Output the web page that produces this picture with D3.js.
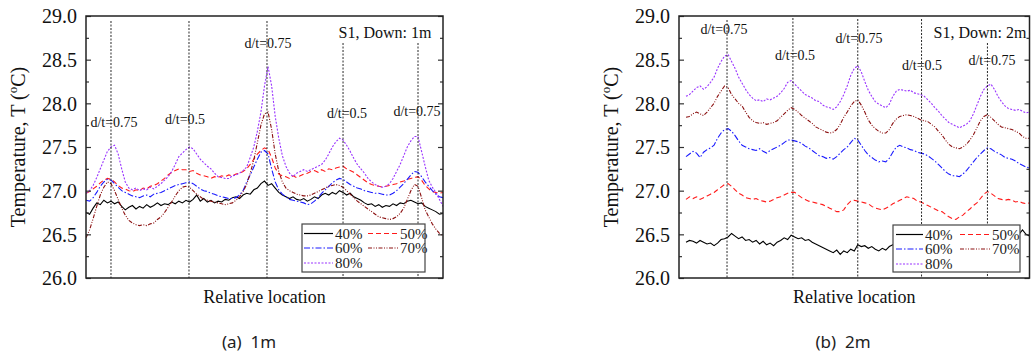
<!DOCTYPE html>
<html><head><meta charset="utf-8">
<script src="https://cdn.jsdelivr.net/npm/d3@7"></script>
<style>html,body{margin:0;padding:0;background:#fff;}svg{display:block;}
.serif{font-family:"Liberation Serif","Times New Roman",serif;}
.sans{font-family:"Noto Sans","DejaVu Sans",sans-serif;}</style>
</head><body>
<svg id="chart" width="1031" height="357"></svg>
<script>
// ---------- DATA ----------
const seriesNames = ["40%", "50%", "60%", "70%", "80%"];
const yTicks = [26.0, 26.5, 27.0, 27.5, 28.0, 28.5, 29.0];
const panelTitles = ["S1, Down: 1m", "S1, Down: 2m"];
const captions = ["(a)\u00a0\u00a01m", "(b)\u00a0\u00a02m"];
const dtLabels1 = ["d/t=0.75", "d/t=0.5", "d/t=0.75", "d/t=0.5", "d/t=0.75"];
const dtLabels2 = ["d/t=0.75", "d/t=0.5", "d/t=0.75", "d/t=0.5", "d/t=0.75"];
const dtLoc1 = [7.0, 28.85, 50.7, 72.0, 93.0];
const dtLoc2 = [13.7, 32.5, 51.0, 69.2, 88.0];

// Panel (a) 1m: relative location 0..100
const loc1 = d3.range(0, 101);
const a40 = [26.75,26.73,26.80,26.86,26.84,26.89,26.86,26.88,26.85,26.87,26.82,26.78,26.81,26.83,26.79,26.82,26.80,26.84,26.81,26.83,
26.86,26.83,26.85,26.84,26.87,26.85,26.88,26.86,26.89,26.87,26.90,26.95,26.88,26.91,26.87,26.89,26.86,26.88,26.87,26.90,
26.89,26.92,26.93,26.91,26.95,26.97,26.96,27.01,27.03,27.08,27.11,27.06,27.08,27.03,26.98,26.95,26.93,26.91,26.93,26.90,
26.89,26.91,26.88,26.90,26.93,26.91,26.95,26.97,26.95,26.98,26.96,27.00,26.98,26.95,26.97,26.93,26.91,26.89,26.86,26.84,
26.85,26.82,26.84,26.81,26.83,26.82,26.85,26.83,26.86,26.85,26.88,26.89,26.87,26.85,26.86,26.82,26.80,26.78,26.76,26.73,26.74];
const a50 = [26.97,26.99,27.02,27.05,27.09,27.12,27.14,27.13,27.10,27.06,27.03,27.02,27.00,26.99,27.01,27.00,27.03,27.02,27.05,27.06,
27.08,27.11,27.14,27.18,27.21,27.23,27.25,27.24,27.24,27.22,27.23,27.20,27.18,27.17,27.16,27.14,27.16,27.15,27.17,27.16,
27.18,27.17,27.19,27.20,27.22,27.25,27.30,27.36,27.42,27.46,27.49,27.47,27.38,27.26,27.19,27.17,27.16,27.14,27.17,27.15,
27.17,27.19,27.20,27.22,27.23,27.21,27.24,27.22,27.25,27.24,27.26,27.27,27.28,27.25,27.23,27.21,27.18,27.15,27.12,27.09,
27.07,27.06,27.05,27.04,27.05,27.06,27.07,27.08,27.10,27.11,27.13,27.14,27.15,27.16,27.12,27.06,27.02,26.99,26.98,26.97,26.98];
const a60 = [26.89,26.88,26.92,26.98,27.05,27.10,27.13,27.12,27.08,27.04,27.00,26.98,26.96,26.94,26.93,26.92,26.94,26.95,26.93,26.96,
26.97,26.98,27.00,27.02,27.04,27.06,27.07,27.08,27.09,27.10,27.08,27.05,27.02,27.00,26.99,26.97,26.96,26.94,26.93,26.92,
26.91,26.91,26.92,26.95,27.00,27.10,27.18,27.27,27.36,27.44,27.46,27.42,27.25,27.10,27.01,26.96,26.93,26.90,26.89,26.88,
26.87,26.86,26.84,26.85,26.88,26.92,26.97,27.01,27.05,27.09,27.12,27.14,27.13,27.10,27.07,27.05,27.03,27.02,27.00,26.99,
26.98,26.97,26.97,26.96,26.95,26.95,26.97,27.00,27.04,27.08,27.13,27.18,27.22,27.21,27.16,27.10,27.05,27.00,26.96,26.93,26.92];
const a70 = [26.46,26.55,26.68,26.82,26.95,27.04,27.10,27.08,27.00,26.90,26.80,26.72,26.66,26.63,26.61,26.60,26.61,26.60,26.62,26.63,
26.67,26.70,26.75,26.81,26.87,26.94,27.00,27.04,27.05,27.04,27.00,26.96,26.93,26.90,26.89,26.88,26.87,26.86,26.85,26.84,
26.85,26.86,26.89,26.93,26.99,27.07,27.20,27.35,27.55,27.75,27.88,27.90,27.70,27.42,27.22,27.10,27.03,27.00,26.98,26.96,
26.95,26.94,26.94,26.95,26.97,26.99,27.01,27.03,27.05,27.06,27.07,27.06,27.04,27.00,26.96,26.92,26.88,26.85,26.82,26.79,
26.76,26.73,26.70,26.69,26.68,26.67,26.68,26.70,26.74,26.80,26.90,27.00,27.07,27.05,26.92,26.78,26.70,26.62,26.56,26.51,26.48];
const a80 = [26.97,27.00,27.06,27.15,27.25,27.35,27.45,27.50,27.52,27.42,27.25,27.10,27.03,27.01,27.03,27.00,27.02,27.01,27.04,27.02,
27.05,27.08,27.12,27.16,27.22,27.30,27.39,27.43,27.47,27.50,27.48,27.42,27.36,27.32,27.28,27.25,27.20,27.16,27.15,27.14,
27.14,27.17,27.18,27.20,27.23,27.27,27.38,27.50,27.68,27.90,28.20,28.42,28.20,27.85,27.60,27.40,27.28,27.20,27.16,27.20,
27.22,27.24,27.22,27.24,27.26,27.28,27.30,27.35,27.42,27.50,27.56,27.60,27.58,27.52,27.45,27.37,27.30,27.25,27.20,27.14,
27.10,27.07,27.05,27.04,27.05,27.08,27.14,27.22,27.30,27.40,27.50,27.57,27.62,27.62,27.45,27.28,27.12,27.04,26.98,26.90,26.82];

// Panel (b) 2m: relative location 2..100
const loc2 = d3.range(2, 101);
const b40 = [26.41,26.43,26.42,26.40,26.43,26.41,26.39,26.40,26.37,26.40,26.44,26.45,26.47,26.51,26.48,26.45,26.47,26.43,26.44,
26.41,26.43,26.39,26.42,26.38,26.40,26.37,26.41,26.43,26.46,26.44,26.49,26.47,26.45,26.46,26.43,26.44,26.41,26.39,26.37,
26.35,26.33,26.31,26.29,26.32,26.27,26.31,26.29,26.33,26.31,26.38,26.36,26.37,26.34,26.36,26.33,26.31,26.34,26.32,26.36,
26.38,26.40,26.38,26.41,26.42,26.44,26.41,26.43,26.40,26.41,26.38,26.36,26.35,26.33,26.34,26.31,26.30,26.31,26.29,26.32,
26.34,26.36,26.38,26.41,26.43,26.45,26.47,26.49,26.48,26.46,26.45,26.47,26.46,26.48,26.47,26.49,26.50,26.55,26.50,26.48];
const b50 = [26.90,26.93,26.91,26.93,26.90,26.92,26.94,26.96,26.98,27.01,27.04,27.07,27.08,27.05,27.01,26.97,26.95,26.92,26.91,
26.90,26.91,26.89,26.88,26.87,26.88,26.90,26.92,26.93,26.95,26.97,26.98,26.98,26.95,26.92,26.90,26.88,26.87,26.86,26.85,
26.84,26.82,26.80,26.78,26.76,26.76,26.78,26.84,26.88,26.89,26.88,26.87,26.86,26.85,26.82,26.80,26.79,26.78,26.80,26.82,
26.85,26.87,26.89,26.91,26.93,26.92,26.91,26.88,26.87,26.85,26.83,26.81,26.79,26.77,26.76,26.73,26.70,26.68,26.67,26.70,
26.72,26.76,26.79,26.83,26.86,26.91,26.96,26.99,26.97,26.94,26.91,26.90,26.89,26.90,26.89,26.87,26.88,26.86,26.85,26.86];
const b60 = [27.39,27.42,27.45,27.43,27.38,27.44,27.47,27.49,27.52,27.60,27.66,27.70,27.71,27.68,27.63,27.57,27.52,27.50,27.48,
27.47,27.46,27.48,27.45,27.43,27.46,27.48,27.50,27.52,27.55,27.58,27.58,27.57,27.56,27.54,27.51,27.49,27.46,27.43,27.40,
27.39,27.37,27.38,27.36,27.39,27.43,27.47,27.50,27.55,27.60,27.58,27.52,27.46,27.41,27.38,27.35,27.33,27.34,27.33,27.37,
27.44,27.50,27.52,27.50,27.49,27.47,27.46,27.44,27.43,27.42,27.40,27.37,27.34,27.30,27.26,27.22,27.19,27.17,27.17,27.16,
27.19,27.23,27.28,27.33,27.38,27.42,27.46,27.49,27.48,27.45,27.43,27.41,27.38,27.37,27.36,27.34,27.31,27.29,27.27,27.26];
const b70 = [27.84,27.85,27.88,27.90,27.88,27.86,27.90,27.95,28.00,28.08,28.14,28.20,28.18,28.10,28.05,28.00,27.97,27.90,27.84,
27.80,27.78,27.77,27.78,27.76,27.77,27.78,27.80,27.84,27.88,27.92,27.95,27.93,27.90,27.86,27.83,27.80,27.77,27.73,27.71,
27.69,27.67,27.66,27.67,27.70,27.76,27.84,27.90,27.97,28.02,28.04,27.98,27.90,27.81,27.75,27.71,27.68,27.66,27.66,27.70,
27.77,27.82,27.85,27.86,27.87,27.86,27.85,27.83,27.81,27.80,27.79,27.76,27.73,27.68,27.64,27.58,27.53,27.50,27.49,27.48,
27.50,27.53,27.58,27.64,27.72,27.80,27.85,27.87,27.84,27.80,27.76,27.73,27.72,27.71,27.70,27.68,27.66,27.62,27.60,27.60];
const b80 = [28.08,28.10,28.14,28.18,28.20,28.16,28.19,28.24,28.30,28.40,28.48,28.54,28.56,28.48,28.40,28.30,28.23,28.16,28.10,
28.06,28.03,28.04,28.02,28.05,28.04,28.06,28.08,28.12,28.17,28.24,28.26,28.22,28.18,28.14,28.10,28.08,28.06,28.03,28.02,
27.98,27.96,27.95,27.93,27.96,28.02,28.10,28.20,28.32,28.40,28.43,28.36,28.25,28.15,28.08,28.02,27.99,27.97,27.95,27.99,
28.08,28.14,28.16,28.15,28.14,28.15,28.12,28.11,28.10,28.08,28.04,28.00,27.95,27.91,27.86,27.82,27.78,27.76,27.74,27.72,
27.74,27.76,27.80,27.88,27.98,28.08,28.16,28.20,28.22,28.16,28.08,28.02,27.97,27.94,27.93,27.92,27.93,27.91,27.89,27.90];

// ---------- STYLE ----------
const styles = {
  "40%": {color: "#000000", dash: null},
  "50%": {color: "#ff1a1a", dash: "5,3"},
  "60%": {color: "#1a1aff", dash: "6,2,1.5,2"},
  "70%": {color: "#8b1010", dash: "4,1.5,1,1.5,1,1.5"},
  "80%": {color: "#9933ff", dash: "2,1.5"}
};
const svg = d3.select("#chart");
svg.append("rect").attr("width", 1031).attr("height", 357).attr("fill", "#fff");

const panels = [
  {id: "a", left: 86, right: 443, top: 16, bottom: 278, loc: loc1, series: [a40, a50, a60, a70, a80],
   dtLoc: dtLoc1, dtLabels: dtLabels1, lineTops: [21, 21, 21, 43, 43],
   labelPos: [[114, 127], [185, 124], [268, 48], [347, 118], [417, 116]],
   title: panelTitles[0], titlePos: [385, 38], caption: captions[0], capX: 249,
   legend: {x0: 302, x1: 425, y0: 224, y1: 272, c1: [304, 333, 335], c2: [368, 399, 400]}},
  {id: "b", left: 679, right: 1029.5, top: 16, bottom: 278, loc: loc2, series: [b40, b50, b60, b70, b80],
   dtLoc: dtLoc2, dtLabels: dtLabels2, lineTops: [20, 18, 19, 19, 43],
   labelPos: [[724, 34], [795, 60], [859, 43], [922, 70], [992, 65]],
   title: panelTitles[1], titlePos: [980, 38], caption: captions[1], capX: 843,
   legend: {x0: 893, x1: 1020, y0: 225, y1: 272, c1: [896, 923, 925], c2: [960, 990, 992]}}
];

panels.forEach((p) => {
  const x = d3.scaleLinear().domain([0, 100]).range([p.left, p.right]);
  const y = d3.scaleLinear().domain([26, 29]).range([p.bottom, p.top]);
  const g = svg.append("g");
  const clipId = "clip" + p.id;
  svg.append("clipPath").attr("id", clipId).append("rect")
    .attr("x", p.left).attr("y", p.top).attr("width", p.right - p.left).attr("height", p.bottom - p.top);

  // series
  const line = d3.line().x((d, i) => x(p.loc[i])).y(d => y(d));
  const sg = g.append("g").attr("clip-path", `url(#${clipId})`);
  p.series.forEach((vals, si) => {
    const st = styles[seriesNames[si]];
    sg.append("path").datum(vals).attr("d", line)
      .attr("fill", "none").attr("stroke", st.color).attr("stroke-width", 1.1)
      .attr("stroke-dasharray", st.dash);
  });

  // d/t vertical lines
  p.dtLoc.forEach((u, i) => {
    g.append("line").attr("x1", x(u)).attr("x2", x(u)).attr("y1", p.lineTops[i]).attr("y2", p.bottom)
      .attr("stroke", "#111").attr("stroke-width", 0.9).attr("stroke-dasharray", "2,1.5");
  });
  p.dtLabels.forEach((t, i) => {
    g.append("text").attr("class", "serif").attr("x", p.labelPos[i][0]).attr("y", p.labelPos[i][1])
      .attr("text-anchor", "middle").style("font-size", "14px").attr("fill", "#111").text(t);
  });
  g.append("text").attr("class", "serif").attr("x", p.titlePos[0]).attr("y", p.titlePos[1]).attr("text-anchor", "middle")
    .style("font-size", "16px").attr("fill", "#111").text(p.title);

  // axes
  const minor = d3.range(26.25, 29, 0.5);
  const axL = d3.axisLeft(y).tickValues(yTicks).tickSizeInner(-5).tickSizeOuter(0).tickPadding(9).tickFormat(d3.format(".1f"));
  const gl = g.append("g").attr("transform", `translate(${p.left},0)`).call(axL);
  gl.attr("font-family", null).attr("font-size", null);
  gl.select(".domain").remove();
  gl.selectAll(".tick line").attr("stroke", "#333").attr("stroke-width", 1.2);
  gl.selectAll(".tick text").attr("class", "serif").style("font-size", "20px").attr("fill", "#111").attr("dy", "0.34em");
  const glm = g.append("g").attr("transform", `translate(${p.left},0)`)
    .call(d3.axisLeft(y).tickValues(minor).tickSizeInner(-3).tickSizeOuter(0).tickFormat(""));
  glm.select(".domain").remove();
  glm.selectAll(".tick line").attr("stroke", "#333").attr("stroke-width", 1.2);
  const gr = g.append("g").attr("transform", `translate(${p.right},0)`)
    .call(d3.axisRight(y).tickValues(yTicks).tickSizeInner(-5).tickSizeOuter(0).tickFormat(""));
  gr.select(".domain").remove();
  gr.selectAll(".tick line").attr("stroke", "#333").attr("stroke-width", 1.2);
  const grm = g.append("g").attr("transform", `translate(${p.right},0)`)
    .call(d3.axisRight(y).tickValues(minor).tickSizeInner(-3).tickSizeOuter(0).tickFormat(""));
  grm.select(".domain").remove();
  grm.selectAll(".tick line").attr("stroke", "#333").attr("stroke-width", 1.2);

  // frame
  g.append("rect").attr("x", p.left).attr("y", p.top).attr("width", p.right - p.left).attr("height", p.bottom - p.top)
    .attr("fill", "none").attr("stroke", "#222").attr("stroke-width", 1.5);

  // legend
  const L = p.legend;
  g.append("rect").attr("x", L.x0).attr("y", L.y0).attr("width", L.x1 - L.x0).attr("height", L.y1 - L.y0)
    .attr("fill", "#fff").attr("stroke", "#444").attr("stroke-width", 1.2);
  const rowsY = [L.y0 + 9.5, L.y0 + 24, L.y0 + 39];
  const slots = [[0, 0], [1, 0], [0, 1], [1, 1], [0, 2]];
  seriesNames.forEach((nm, si) => {
    const col = slots[si][0] === 0 ? L.c1 : L.c2;
    const yy = rowsY[slots[si][1]];
    const st = styles[nm];
    g.append("line").attr("x1", col[0]).attr("x2", col[1]).attr("y1", yy).attr("y2", yy)
      .attr("stroke", st.color).attr("stroke-width", 1.2).attr("stroke-dasharray", st.dash);
    g.append("text").attr("class", "serif").attr("x", col[2]).attr("y", yy).attr("dy", "0.35em")
      .style("font-size", "15px").attr("fill", "#222").text(nm);
  });

  // axis titles
  const cx = (p.left + p.right) / 2;
  g.append("text").attr("class", "serif").attr("x", cx).attr("y", 303).attr("text-anchor", "middle")
    .style("font-size", "18px").attr("fill", "#111").text("Relative location");
  const yt = g.append("text").attr("class", "serif").attr("transform", `translate(${p.left - 61},147) rotate(-90)`)
    .attr("text-anchor", "middle").style("font-size", "20px").attr("fill", "#111");
  yt.append("tspan").text("Temperature, T (");
  yt.append("tspan").style("font-size", "13px").attr("dy", -8).text("o");
  yt.append("tspan").attr("dy", 8).text("C)");

  // caption
  g.append("text").attr("class", "sans").attr("x", p.capX).attr("y", 348).attr("text-anchor", "middle")
    .style("font-size", "17px").attr("fill", "#222").text(p.caption);
});
</script>
</body></html>
